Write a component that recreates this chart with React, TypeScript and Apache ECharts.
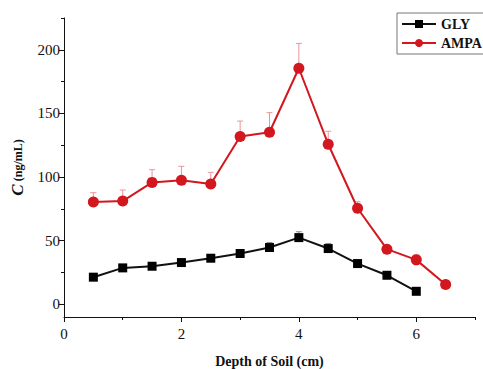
import React, { useEffect, useRef } from "react";
import * as echarts from "echarts";

const depthsGLY = [0.5, 1, 1.5, 2, 2.5, 3, 3.5, 4, 4.5, 5, 5.5, 6];
const glyValues = [21.3, 28.6, 29.9, 32.8, 36.2, 39.9, 44.6, 52.4, 43.8, 32, 22.8, 10.2];
const glyUpper = [22, 29.5, 31, 34, 38, 42.5, 48.5, 57, 47.8, 33.5, 24, 11];

const depthsAMPA = [0.5, 1, 1.5, 2, 2.5, 3, 3.5, 4, 4.5, 5, 5.5, 6, 6.5];
const ampaValues = [80.3, 81.1, 95.8, 97.4, 94.5, 131.8, 135.2, 185.5, 125.8, 75.5, 43.3, 34.9, 15.5];
const ampaUpper = [87.7, 89.8, 105.8, 108.4, 103.7, 144, 150.6, 205, 136, 80.6, 45, 38.8, 16];

const xMajorTicks = [0, 2, 4, 6];
const xMinorTicks = [1, 3, 5, 7];
const yMajorTicks = [0, 50, 100, 150, 200];
const yMinorTicks = [25, 75, 125, 175, 225];

const SERIF = "Liberation Serif";

export default function App() {
  const ref = useRef<HTMLDivElement>(null);
  useEffect(() => {
    if (!ref.current) return;
    const chart = echarts.init(ref.current, undefined, { renderer: "svg" });
    const pairs = (xs: number[], ys: number[]) => xs.map((x, i) => [x, ys[i]]);
    const errPairs = (xs: number[], ys: number[], up: number[]) => xs.map((x, i) => [x, ys[i], up[i]]);
    const errRender = (color: string) => (params: any, api: any) => {
      const x = api.value(0);
      const y = api.value(1);
      const hi = api.value(2);
      const p0 = api.coord([x, y]);
      const p1 = api.coord([x, hi]);
      const style = { stroke: color, lineWidth: 1 };
      return {
        type: "group",
        children: [
          { type: "line", shape: { x1: p0[0], y1: p0[1], x2: p1[0], y2: p1[1] }, style },
          { type: "line", shape: { x1: p1[0] - 3, y1: p1[1], x2: p1[0] + 3, y2: p1[1] }, style },
        ],
      };
    };
    const xBase = { type: "value", min: 0, max: 7, interval: 1, gridIndex: 0, splitLine: { show: false } };
    const yBase = { type: "value", min: -10, max: 225, gridIndex: 0, splitLine: { show: false } };
    chart.setOption({
      animation: false,
      backgroundColor: "#fff",
      grid: { left: 64, top: 18, width: 411, height: 299, containLabel: false, outerBoundsMode: "none" },
      legend: {
        data: ["GLY", "AMPA"],
        orient: "vertical",
        left: 397,
        top: 13,
        itemWidth: 34,
        itemHeight: 10,
        itemGap: 5,
        padding: [4, 30, 4, 4],
        borderColor: "#777",
        borderWidth: 1,
        textStyle: { fontFamily: SERIF, fontWeight: "bold", fontSize: 14, color: "#111" },
      },
      xAxis: [
        {
          ...xBase,
          position: "bottom",
          axisLine: { show: true, onZero: false, lineStyle: { color: "#111", width: 1 } },
          axisTick: { show: true, length: 5, customValues: xMajorTicks, lineStyle: { color: "#111" } },
          axisLabel: { customValues: xMajorTicks, fontFamily: SERIF, fontSize: 15, color: "#111", margin: 9 },
          name: "Depth of Soil (cm)",
          nameLocation: "middle",
          nameGap: 37,
          nameTextStyle: { fontFamily: SERIF, fontWeight: "bold", fontSize: 14, color: "#111" },
        },
        {
          ...xBase,
          position: "bottom",
          axisLine: { show: false, onZero: false },
          axisTick: { show: true, length: 3, customValues: xMinorTicks, lineStyle: { color: "#111" } },
          axisLabel: { show: false },
        },
      ],
      yAxis: [
        {
          ...yBase,
          position: "left",
          axisLine: { show: true, onZero: false, lineStyle: { color: "#111", width: 1 } },
          axisTick: { show: true, length: 5, customValues: yMajorTicks, lineStyle: { color: "#111" } },
          axisLabel: { customValues: yMajorTicks, fontFamily: SERIF, fontSize: 15, color: "#111", margin: 4 },
          name: "{c|C} {u|(ng/mL)}",
          nameLocation: "middle",
          nameRotate: 90,
          nameGap: 38,
          nameTextStyle: {
            rich: {
              c: { fontFamily: SERIF, fontWeight: "bold", fontStyle: "italic", fontSize: 17, color: "#111" },
              u: { fontFamily: SERIF, fontWeight: "bold", fontSize: 12, color: "#111" },
            },
          },
        },
        {
          ...yBase,
          position: "left",
          axisLine: { show: false, onZero: false },
          axisTick: { show: true, length: 3, customValues: yMinorTicks, lineStyle: { color: "#111" } },
          axisLabel: { show: false },
        },
      ],
      series: [
        {
          type: "custom",
          name: "glyErr",
          xAxisIndex: 0,
          yAxisIndex: 0,
          z: 1,
          renderItem: errRender("#888"),
          data: errPairs(depthsGLY, glyValues, glyUpper),
          encode: { x: 0, y: [1, 2] },
        },
        {
          type: "custom",
          name: "ampaErr",
          xAxisIndex: 0,
          yAxisIndex: 0,
          z: 1,
          renderItem: errRender("#e9959a"),
          data: errPairs(depthsAMPA, ampaValues, ampaUpper),
          encode: { x: 0, y: [1, 2] },
        },
        {
          type: "line",
          name: "GLY",
          xAxisIndex: 0,
          yAxisIndex: 0,
          z: 3,
          data: pairs(depthsGLY, glyValues),
          symbol: "rect",
          symbolSize: 9,
          itemStyle: { color: "#000" },
          lineStyle: { color: "#111", width: 2 },
        },
        {
          type: "line",
          name: "AMPA",
          xAxisIndex: 0,
          yAxisIndex: 0,
          z: 3,
          data: pairs(depthsAMPA, ampaValues),
          symbol: "circle",
          symbolSize: 11,
          itemStyle: { color: "#d2171e" },
          lineStyle: { color: "#d2171e", width: 2 },
        },
      ],
    });
    return () => chart.dispose();
  }, []);
  return <div ref={ref} style={{ position: "fixed", left: 0, top: 0, width: 483, height: 369 }} />;
}
